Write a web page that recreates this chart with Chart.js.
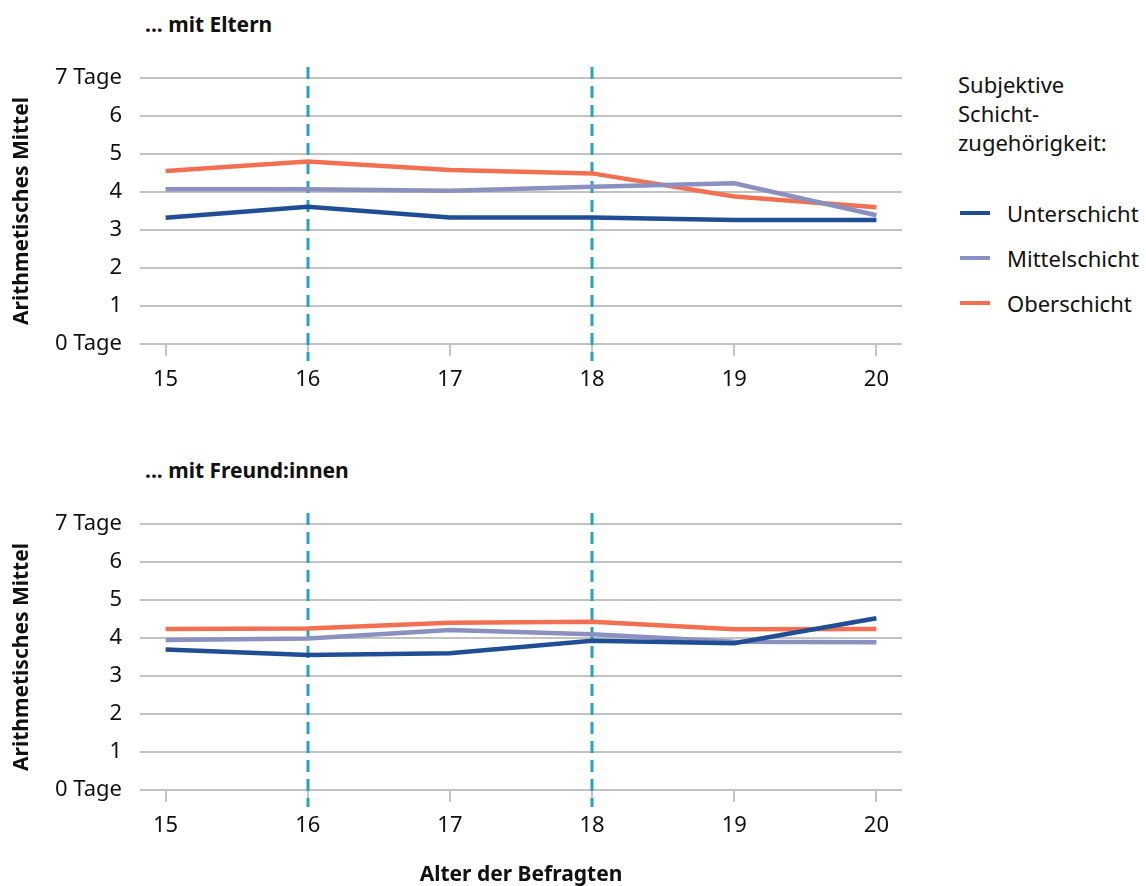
<!doctype html>
<html>
<head>
  <meta charset="utf-8" />
  <title>Kontakt mit Eltern und Freund:innen</title>
  <script src="https://cdn.jsdelivr.net/npm/chart.js@4.4.1/dist/chart.umd.min.js"></script>
  <style>
    body { margin:0; width:1146px; height:886px; position:relative; background:#fff;
           font-family:"Noto Sans", sans-serif; color:#111; overflow:hidden; }
    .box { position:absolute; }
    .ttl { position:absolute; font-weight:bold; font-size:21px; line-height:24px; }
    #legend { position:absolute; left:958px; top:70px; font-size:22px; line-height:29px; }
    #legend .item { position:relative; height:45px; line-height:30px; padding-left:49px; }
    #legend .item span { position:absolute; left:2px; top:13px; width:30px; height:4px; }
  </style>
</head>
<body>
 <div class="ttl" style="left:145px;top:12px;">... mit Eltern</div>
 <div class="ttl" style="left:145px;top:458px;">... mit Freund:innen</div>
 <div class="box" style="left:0;top:48px;width:920px;height:352px;"><canvas id="chartEltern"></canvas></div>
 <div class="box" style="left:0;top:494px;width:920px;height:392px;"><canvas id="chartFreunde"></canvas></div>
 <div id="legend">
   <div style="margin-bottom:41px;">Subjektive<br/>Schicht-<br/>zugehörigkeit:</div>
   <div id="legendItems"></div>
 </div>

<script>
// Alter der Befragten
const ages = [15, 16, 17, 18, 19, 20];
const markedAges = [16, 18];
const seriesNames = ["Unterschicht", "Mittelschicht", "Oberschicht"];
const seriesColors = ["#1f4e95", "#8a90c0", "#f27052"];

// ... mit Eltern
const elternUnter  = [3.32, 3.61, 3.33, 3.33, 3.26, 3.26];
const elternMittel = [4.07, 4.07, 4.03, 4.14, 4.23, 3.39];
const elternOber   = [4.55, 4.80, 4.58, 4.49, 3.88, 3.60];

// ... mit Freund:innen
const freundeUnter  = [3.70, 3.55, 3.60, 3.93, 3.86, 4.52];
const freundeMittel = [3.95, 3.99, 4.21, 4.10, 3.90, 3.89];
const freundeOber   = [4.24, 4.25, 4.40, 4.43, 4.23, 4.24];

const FONT = "'Noto Sans', sans-serif";
const GRID = "#c3c3c3";

// gestrichelte Linien bei 16 und 18
const dashLines = {
  id: "dashLines",
  beforeDatasetsDraw(chart) {
    const ctx = chart.ctx, x = chart.scales.x, a = chart.chartArea;
    ctx.save();
    ctx.strokeStyle = "#2ba1c2";
    ctx.lineWidth = 3;
    ctx.setLineDash([12, 7]);
    markedAges.forEach(v => {
      const px = Math.round(x.getPixelForValue(v));
      ctx.beginPath();
      ctx.moveTo(px, a.top - 11);
      ctx.lineTo(px, a.bottom + 17);
      ctx.stroke();
    });
    ctx.restore();
  }
};

function makeChart(id, values, axisHeight, showXTitle) {
  return new Chart(document.getElementById(id), {
    type: "line",
    data: {
      datasets: values.map((vals, i) => ({
        label: seriesNames[i],
        data: ages.map((a, j) => ({ x: a, y: vals[j] })),
        borderColor: seriesColors[i],
        backgroundColor: seriesColors[i],
        borderWidth: 4.5,
        pointRadius: 0,
        tension: 0
      }))
    },
    options: {
      responsive: true,
      maintainAspectRatio: false,
      animation: false,
      layout: { padding: { top: 0, right: 18, left: 0, bottom: 0 } },
      plugins: { legend: { display: false }, tooltip: { enabled: false } },
      scales: {
        x: {
          type: "linear",
          min: 14.82, max: 20.18,
          afterBuildTicks: s => { s.ticks = ages.map(v => ({ value: v })); },
          afterFit: s => { s.height = axisHeight; },
          border: { display: false },
          grid: { drawOnChartArea: false, drawTicks: true, tickLength: 12, color: GRID, lineWidth: 2 },
          ticks: { padding: 12, color: "#111", font: { family: FONT, size: 22, lineHeight: "24px" } },
          title: {
            display: showXTitle, text: "Alter der Befragten", color: "#111",
            font: { family: FONT, size: 21, weight: "bold", lineHeight: "22px" },
            padding: { top: 0, bottom: 0 }
          }
        },
        y: {
          min: 0, max: 7,
          afterFit: s => { s.width = 140; },
          border: { display: false },
          grid: { drawTicks: false, color: GRID, lineWidth: 2 },
          ticks: {
            stepSize: 1, padding: 18, color: "#111", font: { family: FONT, size: 22, lineHeight: "24px" },
            callback: v => (v === 0 || v === 7) ? v + " Tage" : v
          },
          title: {
            display: true, text: "Arithmetisches Mittel", color: "#111",
            font: { family: FONT, size: 21, weight: "bold", lineHeight: "24px" },
            padding: { top: 10, bottom: 0 }
          }
        }
      }
    },
    plugins: [dashLines]
  });
}

makeChart("chartEltern", [elternUnter, elternMittel, elternOber], 56, false);
makeChart("chartFreunde", [freundeUnter, freundeMittel, freundeOber], 96, true);

// Legende
const legendItems = document.getElementById("legendItems");
seriesNames.forEach((name, i) => {
  const d = document.createElement("div");
  d.className = "item";
  d.innerHTML = '<span style="background:' + seriesColors[i] + '"></span>' + name;
  legendItems.appendChild(d);
});
</script>
</body>
</html>
